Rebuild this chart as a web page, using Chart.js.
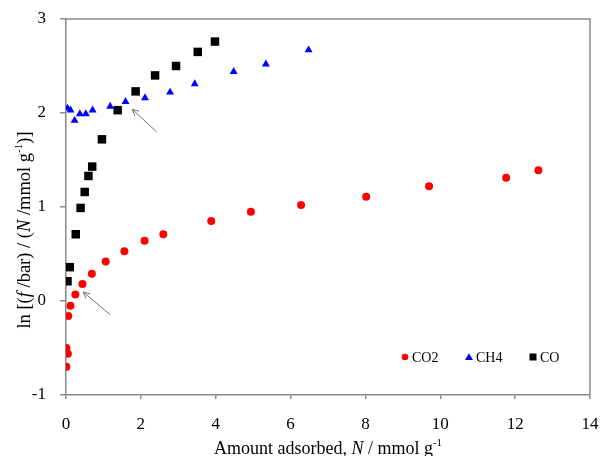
<!DOCTYPE html>
<html>
<head>
<meta charset="utf-8">
<script src="https://cdn.jsdelivr.net/npm/chart.js@4/dist/chart.umd.min.js"></script>
<style>
  html, body { margin: 0; background: #fff; }
  #wrap { width: 602px; height: 456px; }
</style>
</head>
<body>
<div id="wrap"><canvas id="chart"></canvas></div>
<script>
// values
const co2N = [0.01, 0.05, 0.01, 0.06, 0.12, 0.25, 0.44, 0.69, 1.06, 1.56, 2.1, 2.6, 3.88, 4.94, 6.28, 8.02, 9.7, 11.76, 12.62];
const co2Y = [-0.70, -0.56, -0.50, -0.16, -0.05, 0.07, 0.18, 0.29, 0.42, 0.53, 0.64, 0.71, 0.85, 0.95, 1.02, 1.11, 1.22, 1.31, 1.39];

const ch4N = [0.04, 0.12, 0.23, 0.37, 0.53, 0.71, 1.18, 1.59, 2.11, 2.78, 3.44, 4.48, 5.34, 6.48];
const ch4Y = [2.05, 2.03, 1.92, 1.99, 1.99, 2.03, 2.07, 2.12, 2.16, 2.22, 2.31, 2.44, 2.52, 2.67];

const coN = [0.04, 0.1, 0.26, 0.39, 0.5, 0.6, 0.7, 0.96, 1.38, 1.86, 2.38, 2.94, 3.52, 3.98];
const coY = [0.21, 0.36, 0.71, 0.99, 1.16, 1.33, 1.43, 1.72, 2.03, 2.23, 2.40, 2.50, 2.65, 2.76];

const seriesNames = ['CO2', 'CH4', 'CO'];

// arrows in data units: [fromX, fromY, toX, toY]
const arrows = [
  [2.42, 1.80, 1.77, 2.04],
  [1.18, -0.145, 0.46, 0.095]
];

const SERIF = '"Liberation Serif", "Times New Roman", serif';
const AXIS_GREY = '#8a8a8a';

function pts(xs, ys) {
  return xs.map((x, i) => ({ x: x, y: ys[i] }));
}

// draw a line of mixed text: [text, style] where style is '', 'i' or 'sup'
function richText(ctx, parts, size, cx, cy) {
  const fontFor = s => (s === 'i' ? 'italic ' : '') + (s === 'sup' ? Math.round(size * 0.62) : size) + 'px ' + SERIF;
  let total = 0;
  parts.forEach(p => { ctx.font = fontFor(p[1]); total += ctx.measureText(p[0]).width; });
  let x = cx - total / 2;
  ctx.textBaseline = 'middle';
  ctx.textAlign = 'left';
  parts.forEach(p => {
    ctx.font = fontFor(p[1]);
    ctx.fillText(p[0], x, p[1] === 'sup' ? cy - size * 0.3 : cy);
    x += ctx.measureText(p[0]).width;
  });
}

const extras = {
  id: 'extras',
  afterDraw(chart) {
    const ctx = chart.ctx;
    const a = chart.chartArea;
    const xs = chart.scales.x, ys = chart.scales.y;
    ctx.save();

    // top and right frame
    ctx.strokeStyle = AXIS_GREY;
    ctx.lineWidth = 1.5;
    ctx.beginPath();
    ctx.moveTo(a.left, a.top);
    ctx.lineTo(a.right, a.top);
    ctx.lineTo(a.right, a.bottom);
    ctx.stroke();

    // arrows
    ctx.strokeStyle = '#707070';
    ctx.lineWidth = 1;
    arrows.forEach(ar => {
      const x1 = xs.getPixelForValue(ar[0]), y1 = ys.getPixelForValue(ar[1]);
      const x2 = xs.getPixelForValue(ar[2]), y2 = ys.getPixelForValue(ar[3]);
      const ang = Math.atan2(y2 - y1, x2 - x1);
      ctx.beginPath();
      ctx.moveTo(x1, y1);
      ctx.lineTo(x2, y2);
      ctx.moveTo(x2 - 7 * Math.cos(ang - 0.45), y2 - 7 * Math.sin(ang - 0.45));
      ctx.lineTo(x2, y2);
      ctx.lineTo(x2 - 7 * Math.cos(ang + 0.45), y2 - 7 * Math.sin(ang + 0.45));
      ctx.stroke();
    });

    // legend inside the plot
    const ly = a.bottom - 38;
    const items = [
      { x: a.left + 339, shape: 'circle' },
      { x: a.left + 403, shape: 'triangle' },
      { x: a.left + 467, shape: 'rect' }
    ];
    items.forEach((it, i) => {
      const ds = chart.data.datasets[i];
      ctx.fillStyle = ds.backgroundColor;
      ctx.beginPath();
      if (it.shape === 'circle') {
        ctx.arc(it.x, ly, 3.3, 0, Math.PI * 2);
      } else if (it.shape === 'triangle') {
        ctx.moveTo(it.x, ly - 3.8);
        ctx.lineTo(it.x + 4, ly + 3);
        ctx.lineTo(it.x - 4, ly + 3);
        ctx.closePath();
      } else {
        ctx.rect(it.x - 3.5, ly - 3.5, 7, 7);
      }
      ctx.fill();
      ctx.fillStyle = '#000';
      ctx.font = '14px ' + SERIF;
      ctx.textAlign = 'left';
      ctx.textBaseline = 'middle';
      ctx.fillText(ds.label, it.x + 7, ly + 1);
    });

    // axis titles
    ctx.fillStyle = '#000';
    richText(ctx, [['Amount adsorbed, ', ''], ['N', 'i'], [' / mmol g', ''], ['-1', 'sup']], 18, (a.left + a.right) / 2, 449);

    ctx.translate(25, 230);
    ctx.rotate(-Math.PI / 2);
    richText(ctx, [['ln [(', ''], ['f', 'i'], [' /bar) / (', ''], ['N', 'i'], [' /mmol g', ''], ['-1', 'sup'], [')]', '']], 18.5, 0, 0);
    ctx.restore();
  }
};

new Chart(document.getElementById('chart'), {
  type: 'scatter',
  data: {
    datasets: [
      {
        label: seriesNames[0], data: pts(co2N, co2Y),
        pointStyle: 'circle', pointRadius: 4, pointHoverRadius: 4,
        backgroundColor: '#ff0000', borderColor: '#ff0000', borderWidth: 0
      },
      {
        label: seriesNames[1], data: pts(ch4N, ch4Y),
        pointStyle: 'triangle', pointRadius: 4.6, pointHoverRadius: 4.6,
        backgroundColor: '#0000ff', borderColor: '#0000ff', borderWidth: 0
      },
      {
        label: seriesNames[2], data: pts(coN, coY),
        pointStyle: 'rect', pointRadius: 6, pointHoverRadius: 6,
        backgroundColor: '#000000', borderColor: '#000000', borderWidth: 0
      }
    ]
  },
  options: {
    responsive: true,
    maintainAspectRatio: false,
    animation: false,
    layout: { padding: { top: 19, right: 12, left: 0, bottom: 0 } },
    plugins: {
      legend: { display: false },
      tooltip: { enabled: false }
    },
    scales: {
      x: {
        type: 'linear', min: 0, max: 14,
        afterFit: s => { s.height = 61; s.paddingLeft = 0; s.paddingRight = 0; },
        ticks: { stepSize: 2, color: '#000', padding: 15, font: { family: SERIF, size: 17 } },
        grid: { display: true, drawOnChartArea: false, drawTicks: true, tickLength: 4, color: AXIS_GREY, lineWidth: 1.5 },
        border: { color: AXIS_GREY, width: 1.5 }
      },
      y: {
        type: 'linear', min: -1, max: 3,
        afterFit: s => { s.width = 66; s.paddingTop = 0; s.paddingBottom = 0; },
        ticks: { stepSize: 1, color: '#000', padding: 14, font: { family: SERIF, size: 17 } },
        grid: { display: true, drawOnChartArea: false, drawTicks: true, tickLength: 6, color: AXIS_GREY, lineWidth: 1.5 },
        border: { color: AXIS_GREY, width: 1.5 }
      }
    }
  },
  plugins: [extras]
});
</script>
</body>
</html>
